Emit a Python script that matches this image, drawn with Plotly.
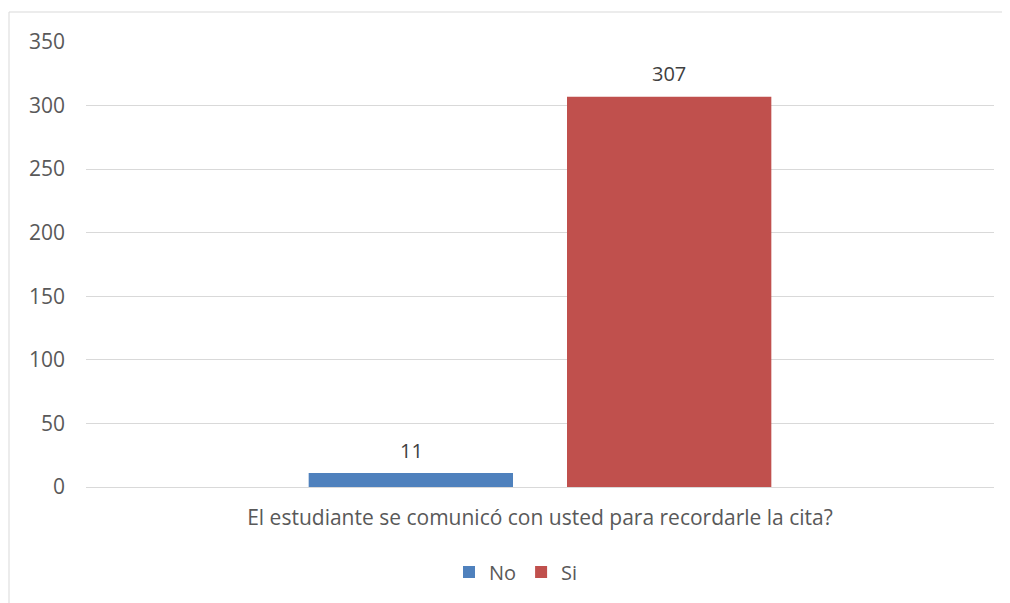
import plotly.graph_objects as go

categories = ["El estudiante se comunicó con usted para recordarle la cita?"]
series_names = ["No", "Si"]
no_values = [11]
si_values = [307]
colors = ["#4F81BD", "#C0504D"]
y_ticks = [0, 50, 100, 150, 200, 250, 300, 350]

# page has an 8px body margin; figure coords = page coords - 8
OFF = 8
W, H = 1002, 595
L, R, T, B = 78, 16, 34, 116
pw, ph = W - L - R, H - T - B

font_family = "'Open Sans', 'Noto Sans', sans-serif"
txt_color = "#595959"

fig = go.Figure()
for name, vals, col in zip(series_names, [no_values, si_values], colors):
    fig.add_trace(go.Bar(
        name=name, x=categories, y=vals, marker=dict(color=col, line=dict(width=0)),
    ))

# data labels above each bar (offset to the bar's slot within the group)
slot_shift = [-129, 129]
annotations = []
for vals, dx in zip([no_values, si_values], slot_shift):
    for c, v in zip(categories, vals):
        annotations.append(dict(x=c, y=v, xref="x", yref="y", text=str(v), showarrow=False,
                                xshift=dx, yshift=23, yanchor="middle",
                                font=dict(family=font_family, size=20, color="#404040")))

def px_x(p):
    return (p - OFF - L) / pw

def px_y(p):
    return (H - B - (p - OFF)) / ph

fig.update_layout(
    width=W, height=H,
    margin=dict(l=L, r=R, t=T, b=B),
    paper_bgcolor="white", plot_bgcolor="white",
    barmode="group", bargap=0.431, bargroupgap=0.209,
    font=dict(family=font_family, size=20, color=txt_color),
    showlegend=True,
    legend=dict(orientation="h", x=px_x(516), xanchor="center", y=px_y(572), yanchor="middle",
                font=dict(size=20, color=txt_color), traceorder="normal",
                itemwidth=30, itemsizing="constant"),
    annotations=annotations,
    shapes=[dict(type="rect", xref="paper", yref="paper",
                 x0=px_x(9), x1=px_x(1040), y0=px_y(650), y1=px_y(12),
                 line=dict(color="#D9D9D9", width=1), fillcolor="rgba(0,0,0,0)", layer="below")],
)
fig.update_yaxes(range=[0, 350], tickvals=y_ticks, showgrid=True, gridcolor="#D9D9D9", gridwidth=1,
                 zeroline=False, showline=False, ticks="", ticklabelstandoff=20,
                 tickfont=dict(size=21, color=txt_color))
fig.update_xaxes(showline=True, linecolor="#D9D9D9", linewidth=1, ticks="", showgrid=False,
                 ticklabelstandoff=12, tickfont=dict(size=21, color=txt_color))

fig.write_html("out.html")
